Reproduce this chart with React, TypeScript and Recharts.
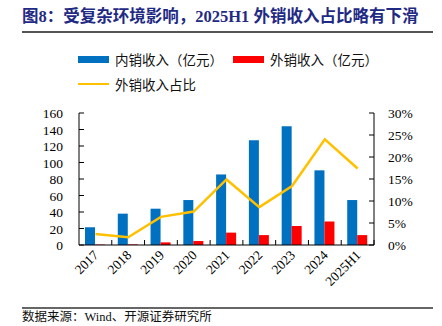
import { ComposedChart, Bar, Line, XAxis, YAxis } from 'recharts'

const years = ['2017', '2018', '2019', '2020', '2021', '2022', '2023', '2024', '2025H1']
const domestic = [21.5, 38, 44, 54.5, 85.5, 127, 144, 90.5, 54.5]
const exportRev = [0.5, 0.7, 3.2, 4.8, 15, 12, 23, 28.5, 12]
const exportShare = [0.025, 0.0175, 0.064, 0.076, 0.149, 0.086, 0.134, 0.24, 0.174]

const leftTicks = [0, 20, 40, 60, 80, 100, 120, 140, 160]
const rightTicks = [0, 0.05, 0.1, 0.15, 0.2, 0.25, 0.3]

const data = years.map((y, i) => ({
  year: y,
  domestic: domestic[i],
  exportRev: exportRev[i],
  share: exportShare[i],
}))

const SERIF = '"Liberation Serif", "Times New Roman", serif'
const CJK = '"Noto Sans CJK SC", sans-serif'
const BLUE = '#0070C0'
const RED = '#FF0000'
const GOLD = '#FFC000'

function LeftTick({ x, y, payload }: any) {
  return (
    <g>
      <line x1={x} x2={x + 5} y1={y} y2={y} stroke="#000" />
      <text x={x - 16} y={y} dy={5} textAnchor="end" fontFamily={SERIF} fontSize={13.5} fill="#000">
        {payload.value}
      </text>
    </g>
  )
}

function RightTick({ x, y, payload }: any) {
  return (
    <g>
      <line x1={x} x2={x - 5} y1={y} y2={y} stroke="#000" />
      <text x={x + 14} y={y} dy={5} textAnchor="start" fontFamily={SERIF} fontSize={13.5} fill="#000">
        {`${Math.round(payload.value * 100)}%`}
      </text>
    </g>
  )
}

// ticks sit on the category boundaries, pointing up into the plot
function BottomTick({ x, y, payload }: any) {
  const half = payload.offset ?? 16.4
  return (
    <g>
      <line x1={x + half} x2={x + half} y1={y} y2={y - 5} stroke="#000" />
      <text
        x={x + 4}
        y={y + 11}
        textAnchor="end"
        fontFamily={SERIF}
        fontSize={13.5}
        fill="#000"
        transform={`rotate(-45, ${x + 4}, ${y + 11})`}
      >
        {payload.value}
      </text>
    </g>
  )
}

export default function App() {
  return (
    <div style={{ position: 'absolute', left: 0, top: 0, width: 442, height: 326, background: '#fff', overflow: 'hidden' }}>
      <div
        style={{
          position: 'absolute',
          left: 22,
          top: 6,
          fontFamily: `${SERIF.split(',')[0]}, ${CJK}`,
          fontWeight: 700,
          fontSize: 16.5,
          color: '#1F2A85',
          whiteSpace: 'nowrap',
          lineHeight: '22px',
        }}
      >
        图8：受复杂环境影响，2025H1 外销收入占比略有下滑
      </div>
      <div style={{ position: 'absolute', left: 22, top: 31, width: 411, height: 1.5, background: '#555' }} />

      <div style={{ position: 'absolute', left: 78, top: 48, fontFamily: CJK, fontSize: 13.5, color: '#111', whiteSpace: 'nowrap' }}>
        <div style={{ display: 'flex', alignItems: 'center', height: 22 }}>
          <span style={{ width: 31, height: 7, background: BLUE, display: 'inline-block' }} />
          <span style={{ marginLeft: 6 }}>内销收入（亿元）</span>
          <span style={{ width: 31, height: 7, background: RED, display: 'inline-block', marginLeft: 10 }} />
          <span style={{ marginLeft: 6 }}>外销收入（亿元）</span>
        </div>
        <div style={{ display: 'flex', alignItems: 'center', height: 22, marginTop: 3 }}>
          <span style={{ width: 31, height: 2.5, background: GOLD, display: 'inline-block' }} />
          <span style={{ marginLeft: 6 }}>外销收入占比</span>
        </div>
      </div>

      <div style={{ position: 'absolute', left: 0, top: 0 }}>
        <ComposedChart
          width={442}
          height={326}
          data={data}
          margin={{ top: 113, right: 0, bottom: 0, left: 0 }}
          barGap={0}
        >
          <XAxis
            dataKey="year"
            height={81}
            stroke="#000"
            tickLine={false}
            tickSize={0}
            tickMargin={0}
            interval={0}
            tick={<BottomTick />}
          />
          <YAxis
            yAxisId="left"
            width={79}
            domain={[0, 160]}
            ticks={leftTicks}
            stroke="#000"
            tickLine={false}
            tickSize={0}
            tickMargin={0}
            interval={0}
            tick={<LeftTick />}
          />
          <YAxis
            yAxisId="right"
            orientation="right"
            width={68}
            domain={[0, 0.3]}
            ticks={rightTicks}
            stroke="#000"
            tickLine={false}
            tickSize={0}
            tickMargin={0}
            interval={0}
            tick={<RightTick />}
          />
          <Bar yAxisId="left" dataKey="domestic" fill={BLUE} barSize={10} isAnimationActive={false} />
          <Bar yAxisId="left" dataKey="exportRev" fill={RED} barSize={10} isAnimationActive={false} />
          <Line
            yAxisId="right"
            dataKey="share"
            stroke={GOLD}
            strokeWidth={2.5}
            dot={false}
            activeDot={false}
            isAnimationActive={false}
          />
        </ComposedChart>
      </div>

      <div style={{ position: 'absolute', left: 22, top: 307, width: 411, height: 1.5, background: '#666' }} />
      <div style={{ position: 'absolute', left: 22, top: 310, fontFamily: `${SERIF.split(',')[0]}, ${CJK}`, fontSize: 12.5, color: '#111', whiteSpace: 'nowrap', lineHeight: '15px' }}>
        数据来源：Wind、开源证券研究所
      </div>
    </div>
  )
}
